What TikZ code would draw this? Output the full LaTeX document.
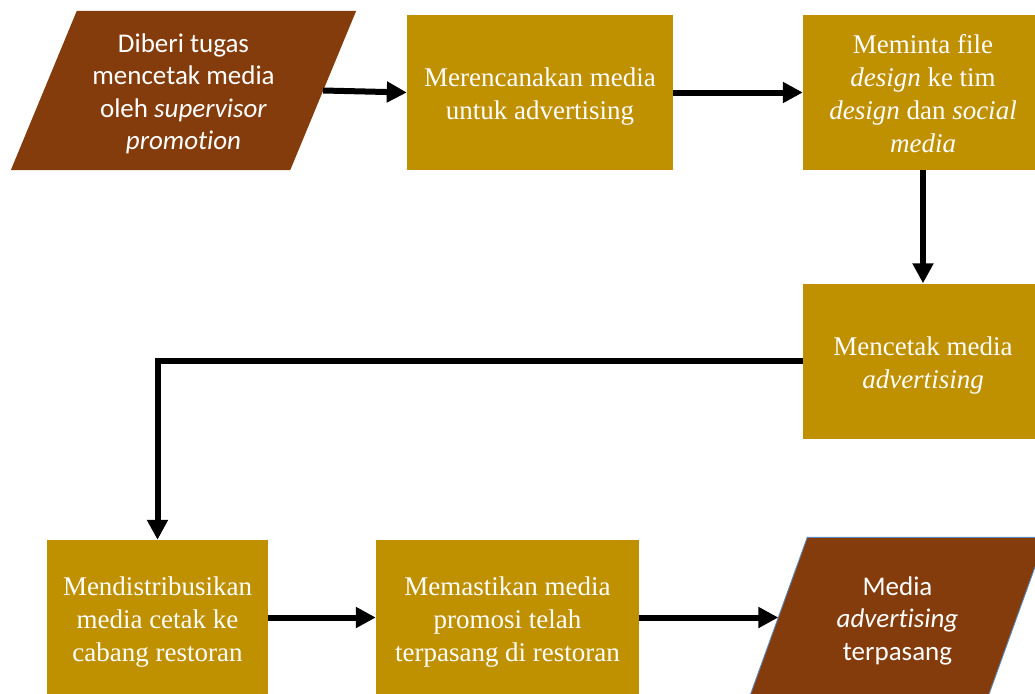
\documentclass[tikz,border=0pt]{standalone}
\usepackage{fontspec}
\setmainfont{Liberation Serif}
\newfontfamily\calibri[Ligatures=NoCommon]{Carlito}
\usetikzlibrary{arrows.meta}
\definecolor{gold}{HTML}{BF9000}
\definecolor{rust}{HTML}{843C0C}
\definecolor{edgeblue}{HTML}{5B87B8}
\pgfdeclarelayer{background}
\pgfsetlayers{background,main}
\begin{document}
\begin{tikzpicture}[x=1pt,y=-1pt,
  procbox/.style={fill=gold, inner sep=0pt, minimum height=155pt},
  proctext/.style={text=white, inner sep=0pt, align=center,
    font=\fontsize{27}{33}\selectfont},
  iobox/.style={inner sep=0pt},
  iotext/.style={text=white, inner sep=0pt, align=center,
    font=\calibri\fontsize{27}{32.5}\selectfont},
  flow/.style={line width=6pt, -{Triangle[length=20pt,width=20pt]}}]
\useasboundingbox (0,0) rectangle (1035,693);
\clip (0,0) rectangle (1035,693);

% input / output parallelograms: frame nodes, slanted body filled behind
\node[iobox, minimum width=279pt, minimum height=159pt] (p1) at (183.5,90.5) {};
\node[iobox, minimum width=238pt, minimum height=160pt] (p7) at (897.5,617.5) {};
\begin{pgfonlayer}{background}
  \fill[rust] ([xshift=33pt]p1.north west) -- ([xshift=33pt]p1.north east)
    -- ([xshift=-33pt]p1.south east) -- ([xshift=-33pt]p1.south west) -- cycle;
  \filldraw[fill=rust, draw=edgeblue, line width=0.9pt]
    ([xshift=29pt]p7.north west) -- ([xshift=29pt]p7.north east)
    -- ([xshift=-29pt]p7.south east) -- ([xshift=-29pt]p7.south west) -- cycle;
\end{pgfonlayer}
\node[iotext] (p1t) at ([yshift=-3.5pt]p1.center)
  {Diberi tugas\\mencetak media\\oleh \textit{supervisor}\\\textit{promotion}};
\node[iotext] (p7t) at ([yshift=-3pt]p7.center)
  {Media\\\textit{advertising}\\terpasang};

% process steps
\node[procbox, minimum width=266pt] (b2) at (540,92.5) {};
\node[procbox, minimum width=240pt] (b3) at (923,92.5) {};
\node[procbox, minimum width=240pt] (b4) at (923,361) {};
\node[procbox, minimum width=221pt] (b5) at (157.5,617.5) {};
\node[procbox, minimum width=263pt] (b6) at (507.5,617.5) {};

\node[proctext] (b2t) at ([yshift=-4pt]b2.center)
  {Merencanakan media\\untuk advertising};
\node[proctext] (b3t) at ([yshift=-1pt]b3.center)
  {Meminta file\\\textit{design} ke tim\\\textit{design} dan \textit{social}\\\textit{media}};
\node[proctext] (b4t) at ([yshift=-5pt]b4.center)
  {Mencetak media\\\textit{advertising}};
\node[proctext] (b5t) at ([yshift=-5pt]b5.center)
  {Mendistribusikan\\media cetak ke\\cabang restoran};
\node[proctext] (b6t) at ([yshift=-5pt]b6.center)
  {Memastikan media\\promosi telah\\terpasang di restoran};

% flow
\draw[flow] (p1.east) -- (b2.west);
\draw[flow] (b2) -- (b3);
\draw[flow] (b3) -- (b4);
\draw[flow] (b4.west) -| (b5.north);
\draw[flow] (b5) -- (b6);
\draw[flow] (b6.east) -- (p7.west);
\end{tikzpicture}
\end{document}
